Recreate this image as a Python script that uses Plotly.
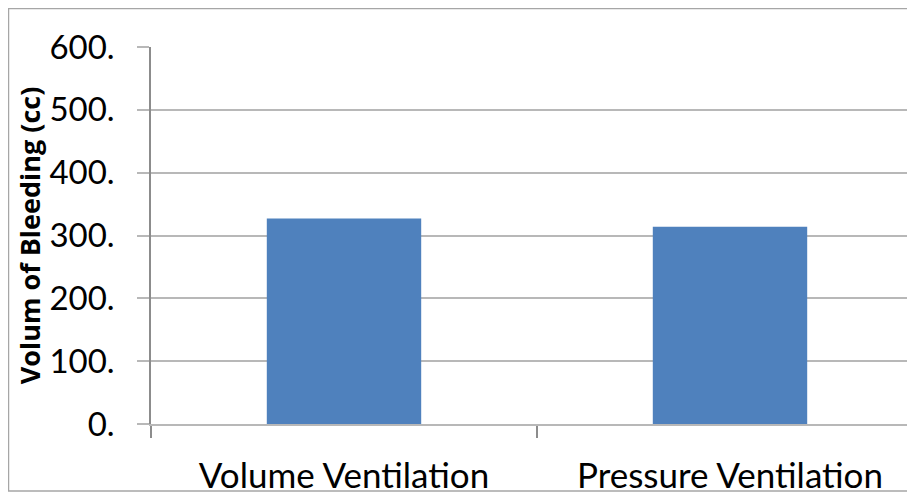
import plotly.graph_objects as go

categories = ["Volume Ventilation", "Pressure Ventilation"]
values = [327, 314]
y_tickvals = [0, 100, 200, 300, 400, 500, 600]
y_ticktext = ["0.", "100.", "200.", "300.", "400.", "500.", "600."]

FONT = "Lato, 'Open Sans', sans-serif"
TITLE_FONT = "'Open Sans', Lato, sans-serif"
GRID = "#b8b8b8"

# page body has an 8px default margin, margins below compensate for it
fig = go.Figure(go.Bar(x=categories, y=values, width=0.4,
                       marker=dict(color="#4F81BD", line=dict(width=0))))

fig.update_layout(
    width=915, height=493,
    margin=dict(l=143, r=0, t=39, b=77),
    paper_bgcolor="white", plot_bgcolor="white",
    showlegend=False,
    font=dict(family=FONT, color="black"),
    xaxis=dict(range=[-0.5, 1.5], tickson="boundaries", ticks="outside",
               ticklen=12, tickcolor="#8c8c8c", tickwidth=1.5,
               showgrid=False, showline=True, linecolor=GRID, linewidth=2,
               tickfont=dict(size=35, family=FONT), ticklabelstandoff=20),
    yaxis=dict(range=[0, 600], tickvals=y_tickvals, ticktext=y_ticktext,
               ticks="outside", ticklen=12, tickcolor=GRID, tickwidth=2,
               showgrid=True, gridcolor=GRID, gridwidth=2,
               showline=True, linecolor="#8c8c8c", linewidth=1.5,
               zeroline=False,
               tickfont=dict(size=33, family=FONT), ticklabelstandoff=16,
               title=dict(text="<b>Volum of Bleeding (cc)</b>",
                          font=dict(size=27, family=TITLE_FONT), standoff=1)),
    shapes=[dict(type="rect", xref="paper", yref="paper",
                 x0=-0.1846, x1=1.05, y0=-0.1777, y1=1.102,
                 line=dict(color="#a6a6a6", width=1.5), layer="below")],
)

fig.write_html("out.html")
